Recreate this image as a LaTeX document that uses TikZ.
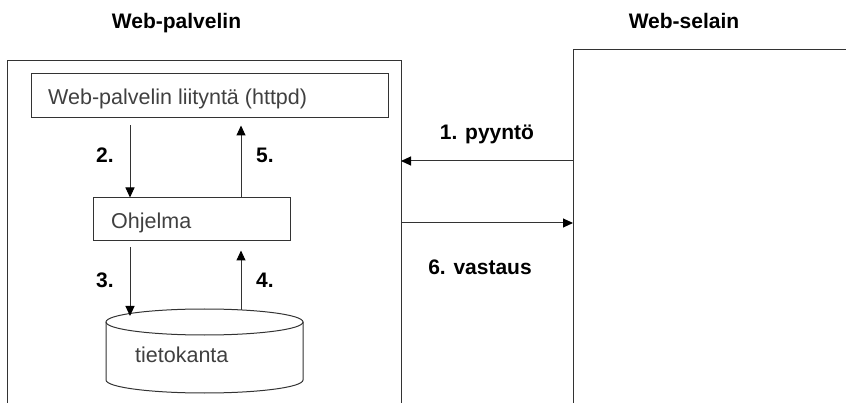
\documentclass[tikz,border=0pt]{standalone}
\usepackage{fontspec}
\setmainfont{Liberation Sans}
\usetikzlibrary{arrows.meta}
\definecolor{ln}{HTML}{333333}
\definecolor{tx}{HTML}{404040}
\tikzset{
  ln/.style={draw=ln, line width=1pt},
  arr/.style={ln, -{Triangle[length=10pt,width=9pt,color=black]}},
  lbl/.style={font=\fontsize{21}{25}\selectfont\bfseries, inner sep=0pt, anchor=base, text=black},
  txt/.style={font=\fontsize{21.5}{25}\selectfont, inner sep=0pt, anchor=base west, text=tx},
  box/.style={ln, rectangle, inner sep=0pt},
}
\begin{document}
\begin{tikzpicture}[x=1pt,y=-1pt]
\useasboundingbox (0,0) rectangle (846,403);
% outer frames
\draw[ln] (7,403) -- (7,61) -- (401,61) -- (401,403);
\draw[ln] (573,403) -- (573,50) -- (846,50);
\node[lbl] (t1) at (176.5,29) {Web-palvelin};
\node[lbl] (t2) at (684,29) {Web-selain};
% boxes
\node[box, minimum width=357pt, minimum height=44pt] (httpd) at (209.5,96) {};
\node[txt] (httpdt) at (48,105) {Web-palvelin liityntä (httpd)};
\node[box, minimum width=197pt, minimum height=43pt] (ohj) at (191.5,219.5) {};
\node[txt] (ohjt) at (111,229) {Ohjelma};
% database cylinder
\draw[ln] (106,322) arc[start angle=180,end angle=360,x radius=98.5,y radius=13]
          arc[start angle=0,end angle=180,x radius=98.5,y radius=13] -- cycle;
\draw[ln] (106,322) -- (106,380) arc[start angle=180,end angle=0,x radius=98.5,y radius=13] -- (303,322);
\node[txt] (db) at (135,362) {tietokanta};
% columns
\coordinate (colL) at (130,0);
\coordinate (colR) at (241,0);
\coordinate (dbL) at (130,316);
\coordinate (dbR) at (241,310);
\draw[arr, shorten <=7pt] (httpd.south -| colL) -- (ohj.north -| colL);
\draw[arr, shorten >=7pt] (ohj.north -| colR) -- (httpd.south -| colR);
\draw[arr, shorten <=6pt] (ohj.south -| colL) -- (dbL);
\draw[arr, shorten >=9pt] (dbR) -- (ohj.south -| colR);
\node[lbl] (n2) at (105,163) {2.};
\node[lbl] (n5) at (265,163) {5.};
\node[lbl] (n3) at (105,288) {3.};
\node[lbl] (n4) at (265,288) {4.};
% request / response
\coordinate (b1) at (573,161);
\coordinate (s1) at (401,161);
\coordinate (s6) at (401,223);
\coordinate (b6) at (573,223);
\draw[arr] (b1) -- (s1);
\draw[arr] (s6) -- (b6);
\node[lbl] (l1) at (487,140) {1. pyyntö};
\node[lbl] (l6) at (480,275) {6. vastaus};
\end{tikzpicture}
\end{document}
